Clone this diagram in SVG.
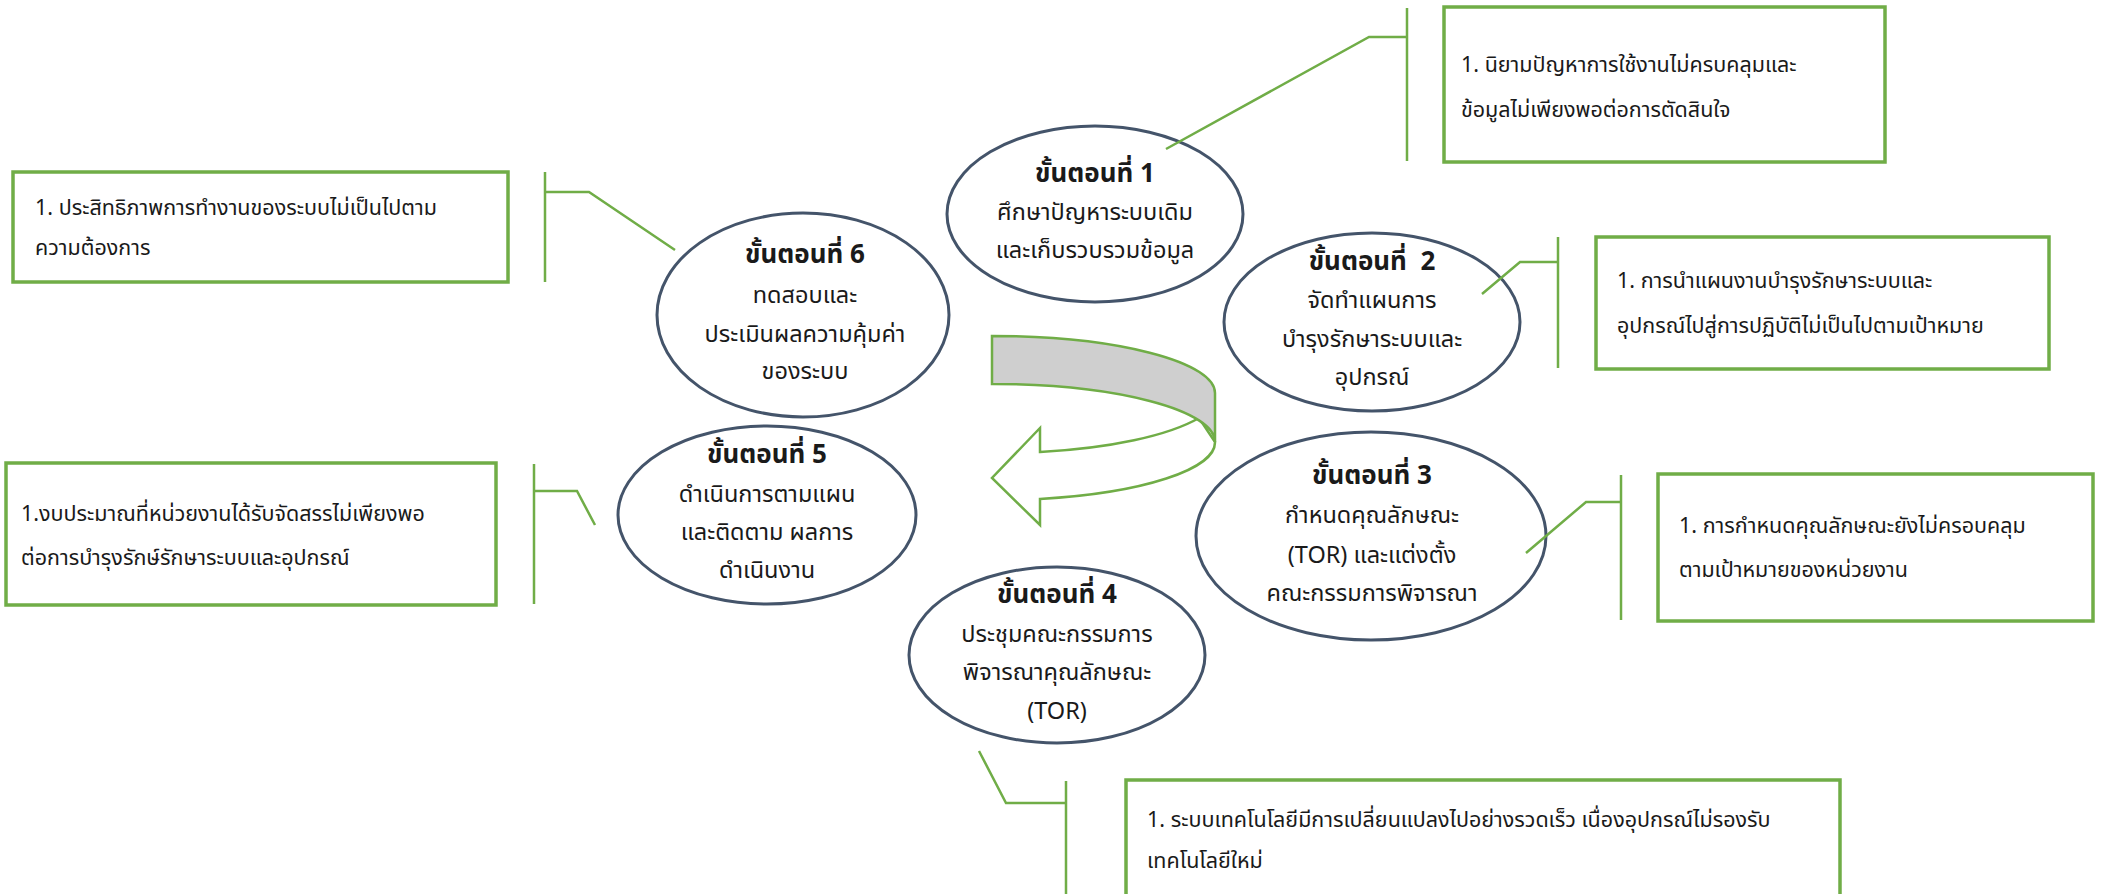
<svg xmlns="http://www.w3.org/2000/svg" width="2102" height="894" viewBox="0 0 2102 894">
<style>
.box{fill:#fff;stroke:#70AD47;stroke-width:3.5}
.ell{fill:#fff;stroke:#44546A;stroke-width:3}
.con{fill:none;stroke:#70AD47;stroke-width:2.5}
text{font-family:"Noto Sans Thai","Noto Sans","DejaVu Sans",sans-serif;font-size:21.5px;fill:#1a1a1a}
.t{text-anchor:middle;font-size:23.5px}
.b{font-weight:bold;font-size:26px}
</style>
<rect width="2102" height="894" fill="#fff"/>
<g id="step1">
<ellipse class="ell" cx="1095" cy="214" rx="148" ry="88"/>
<text class="t b" x="1095" y="182">ขั้นตอนที่ 1</text>
<text class="t" x="1095" y="220">ศึกษาปัญหาระบบเดิม</text>
<text class="t" x="1095" y="258">และเก็บรวบรวมข้อมูล</text>
</g>
<g id="step2">
<ellipse class="ell" cx="1372" cy="322" rx="148" ry="89"/>
<text class="t b" x="1372" y="270">ขั้นตอนที่&#160; 2</text>
<text class="t" x="1372" y="308">จัดทำแผนการ</text>
<text class="t" x="1372" y="347">บำรุงรักษาระบบและ</text>
<text class="t" x="1372" y="385">อุปกรณ์</text>
</g>
<g id="step3">
<ellipse class="ell" cx="1371" cy="536" rx="175" ry="104"/>
<text class="t b" x="1372" y="484">ขั้นตอนที่ 3</text>
<text class="t" x="1372" y="523">กำหนดคุณลักษณะ</text>
<text class="t" x="1372" y="563">(TOR) และแต่งตั้ง</text>
<text class="t" x="1372" y="601">คณะกรรมการพิจารณา</text>
</g>
<g id="step4">
<ellipse class="ell" cx="1057" cy="655" rx="148" ry="88"/>
<text class="t b" x="1057" y="603">ขั้นตอนที่ 4</text>
<text class="t" x="1057" y="642">ประชุมคณะกรรมการ</text>
<text class="t" x="1057" y="680">พิจารณาคุณลักษณะ</text>
<text class="t" x="1057" y="719">(TOR)</text>
</g>
<g id="step5">
<ellipse class="ell" cx="767" cy="515" rx="149" ry="89"/>
<text class="t b" x="767" y="463">ขั้นตอนที่ 5</text>
<text class="t" x="767" y="502">ดำเนินการตามแผน</text>
<text class="t" x="767" y="540">และติดตาม ผลการ</text>
<text class="t" x="767" y="578">ดำเนินงาน</text>
</g>
<g id="step6">
<ellipse class="ell" cx="803" cy="315" rx="146" ry="102"/>
<text class="t b" x="805" y="263">ขั้นตอนที่ 6</text>
<text class="t" x="805" y="303">ทดสอบและ</text>
<text class="t" x="805" y="342">ประเมินผลความคุ้มค่า</text>
<text class="t" x="805" y="379">ของระบบ</text>
</g>
<g id="cycle-arrow">
<path d="M1215,442 A223,58 0 0 1 1040,499 L1040,525 L992,478 L1040,428 L1040,452 A223,62 0 0 0 1199,418 Z" fill="#fff" stroke="#70AD47" stroke-width="2.5" stroke-linejoin="miter"/>
<path d="M992,336 A223,57 0 0 1 1215,393 L1215,442 A223,58 0 0 0 992,384 Z" fill="#CFCFCF" stroke="#70AD47" stroke-width="2.5"/>
</g>
<g id="issue1">
<rect class="box" x="1444" y="7" width="441" height="155"/>
<text x="1461" y="72">1. นิยามปัญหาการใช้งานไม่ครบคลุมและ</text>
<text x="1461" y="117">ข้อมูลไม่เพียงพอต่อการตัดสินใจ</text>
</g>
<g id="issue2">
<rect class="box" x="1596" y="237" width="453" height="132"/>
<text x="1617" y="288">1. การนำแผนงานบำรุงรักษาระบบและ</text>
<text x="1617" y="333">อุปกรณ์ไปสู่การปฏิบัติไม่เป็นไปตามเป้าหมาย</text>
</g>
<g id="issue3">
<rect class="box" x="1658" y="474" width="435" height="147"/>
<text x="1679" y="533">1. การกำหนดคุณลักษณะยังไม่ครอบคลุม</text>
<text x="1679" y="577">ตามเป้าหมายของหน่วยงาน</text>
</g>
<g id="issue4">
<rect class="box" x="1126" y="780" width="714" height="130"/>
<text x="1147" y="827">1. ระบบเทคโนโลยีมีการเปลี่ยนแปลงไปอย่างรวดเร็ว เนื่องอุปกรณ์ไม่รองรับ</text>
<text x="1147" y="868">เทคโนโลยีใหม่</text>
</g>
<g id="issue5">
<rect class="box" x="6" y="463" width="490" height="142"/>
<text x="21" y="521">1.งบประมาณที่หน่วยงานได้รับจัดสรรไม่เพียงพอ</text>
<text x="21" y="565">ต่อการบำรุงรักษ์รักษาระบบและอุปกรณ์</text>
</g>
<g id="issue6">
<rect class="box" x="13" y="172" width="495" height="110"/>
<text x="35" y="215">1. ประสิทธิภาพการทำงานของระบบไม่เป็นไปตาม</text>
<text x="35" y="255">ความต้องการ</text>
</g>
<g id="connectors">
<path class="con" d="M1407,8 V161 M1407,37 H1369 L1166,149"/>
<path class="con" d="M1558,237 V368 M1558,262 H1520 L1482,294"/>
<path class="con" d="M1621,475 V620 M1621,502 H1586 L1526,553"/>
<path class="con" d="M1066,781 V894 M1066,803 H1006 L979,751"/>
<path class="con" d="M534,464 V604 M534,491 H577 L595,525"/>
<path class="con" d="M545,172 V282 M545,192 H589 L675,250"/>
</g>
</svg>
